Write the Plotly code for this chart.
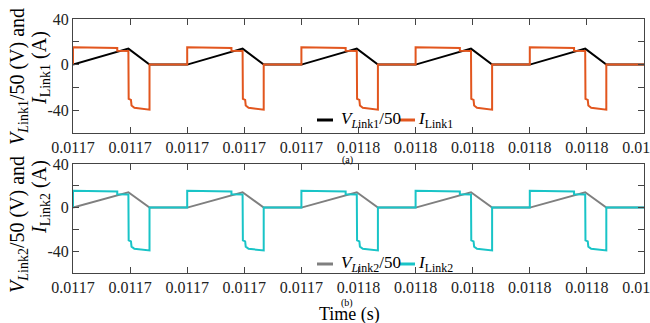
import plotly.graph_objects as go

# ---------------- data ----------------
# time in microseconds
t_I_us = [
    11660, 11660, 11675.5, 11675.5, 11679.4, 11679.5, 11680.3, 11680.5, 11681.5, 11686.8, 11686.8,
    11700, 11700, 11715.5, 11715.5, 11719.4, 11719.5, 11720.3, 11720.5, 11721.5, 11726.8, 11726.8,
    11740, 11740, 11755.5, 11755.5, 11759.4, 11759.5, 11760.3, 11760.5, 11761.5, 11766.8, 11766.8,
    11780, 11780, 11795.5, 11795.5, 11799.4, 11799.5, 11800.3, 11800.5, 11801.5, 11806.8, 11806.8,
    11820, 11820, 11835.5, 11835.5, 11839.4, 11839.5, 11840.3, 11840.5, 11841.5, 11846.8, 11846.8,
    11860,
]
I_link1 = [
    0, 15.2, 14.6, 12.2, 12.0, -30.0, -31.0, -35.8, -37.8, -39.5, 0,
    0, 15.2, 14.6, 12.2, 12.0, -30.0, -31.0, -35.8, -37.8, -39.5, 0,
    0, 15.2, 14.6, 12.2, 12.0, -30.0, -31.0, -35.8, -37.8, -39.5, 0,
    0, 15.2, 14.6, 12.2, 12.0, -30.0, -31.0, -35.8, -37.8, -39.5, 0,
    0, 15.2, 14.6, 12.2, 12.0, -30.0, -31.0, -35.8, -37.8, -39.5, 0,
    0,
]
I_link2 = [
    0, 15.4, 14.8, 12.2, 12.0, -30.0, -31.0, -35.8, -37.8, -39.3, 0,
    0, 15.4, 14.8, 12.2, 12.0, -30.0, -31.0, -35.8, -37.8, -39.3, 0,
    0, 15.4, 14.8, 12.2, 12.0, -30.0, -31.0, -35.8, -37.8, -39.3, 0,
    0, 15.4, 14.8, 12.2, 12.0, -30.0, -31.0, -35.8, -37.8, -39.3, 0,
    0, 15.4, 14.8, 12.2, 12.0, -30.0, -31.0, -35.8, -37.8, -39.3, 0,
    0,
]
t_V_us = [
    11660, 11679.4, 11686.8,
    11700, 11719.4, 11726.8,
    11740, 11759.4, 11766.8,
    11780, 11799.4, 11806.8,
    11820, 11839.4, 11846.8,
    11860,
]
V_link1 = [0, 14.0, 0, 0, 14.0, 0, 0, 14.0, 0, 0, 14.0, 0, 0, 14.0, 0, 0]
V_link2 = [0, 14.1, 0, 0, 14.1, 0, 0, 14.1, 0, 0, 14.1, 0, 0, 14.1, 0, 0]

x_ticks_us = [11660, 11680, 11700, 11720, 11740, 11760, 11780, 11800, 11820, 11840, 11860]
y_ticks = [-40, -20, 0, 20, 40]
y_ticktext = ["-40", "", "0", "", "40"]

# ---------------- figure ----------------
t_I = [v / 1e6 for v in t_I_us]
t_V = [v / 1e6 for v in t_V_us]
x_ticks = [v / 1e6 for v in x_ticks_us]

ORANGE = "#E2561E"
CYAN = "#19C4C7"
GRAY = "#7F7F7F"
FONT = "Liberation Serif"

W, H = 650, 323
L, R, T, B = 73, 6, 19, 50
pw = W - L - R
ph = H - T - B


def px(x):
    return (x - L) / pw


def py(y):
    return 1 - (y - T) / ph


fig = go.Figure()
fig.add_trace(go.Scatter(x=t_V, y=V_link1, mode="lines", line=dict(color="black", width=2),
                         xaxis="x", yaxis="y", showlegend=False))
fig.add_trace(go.Scatter(x=t_I, y=I_link1, mode="lines", line=dict(color=ORANGE, width=2),
                         xaxis="x", yaxis="y", showlegend=False))
fig.add_trace(go.Scatter(x=t_V, y=V_link2, mode="lines", line=dict(color=GRAY, width=2),
                         xaxis="x2", yaxis="y2", showlegend=False))
fig.add_trace(go.Scatter(x=t_I, y=I_link2, mode="lines", line=dict(color=CYAN, width=2),
                         xaxis="x2", yaxis="y2", showlegend=False))

axis_common = dict(showgrid=False, zeroline=False, showline=True, linecolor="#444", linewidth=1,
                   mirror="ticks", ticks="inside", ticklen=6, tickcolor="#444",
                   ticklabeloverflow="allow", automargin=False,
                   tickfont=dict(family=FONT, size=16, color="#222"))
xr = [x_ticks[0], x_ticks[-1]]
fig.update_layout(
    width=W, height=H,
    margin=dict(l=L, r=R, t=T, b=B, autoexpand=False),
    paper_bgcolor="white", plot_bgcolor="white",
    xaxis=dict(domain=[0, 1], range=xr, tickmode="array", tickvals=x_ticks, tickformat=".4f",
               anchor="y", **axis_common),
    yaxis=dict(domain=[py(133), 1], range=[-60, 40], tickmode="array", tickvals=y_ticks,
               ticktext=y_ticktext, anchor="x", **axis_common),
    xaxis2=dict(domain=[0, 1], range=xr, tickmode="array", tickvals=x_ticks, tickformat=".4f",
                anchor="y2", **axis_common),
    yaxis2=dict(domain=[0, py(164)], range=[-60, 40], tickmode="array", tickvals=y_ticks,
                ticktext=y_ticktext, anchor="x2", **axis_common),
    showlegend=False,
)

ann = []
def A(x, y, text, size, angle=0, xanchor="center"):
    ann.append(dict(x=px(x), y=py(y), xref="paper", yref="paper", text=text, showarrow=False,
                    textangle=angle, xanchor=xanchor, yanchor="middle",
                    font=dict(family=FONT, size=size, color="black")))

A(18, 77, "<i>V</i><sub><i>L</i>ink1</sub>/50 (V) and", 20, -90)
A(40, 68, "<i>I</i><sub>Link1</sub> (A)", 20, -90)
A(18, 225, "<i>V</i><sub><i>L</i>ink2</sub>/50 (V) and", 20, -90)
A(40, 197, "<i>I</i><sub>Link2</sub> (A)", 20, -90)
A(347, 160, "(a)", 10)
A(347, 303, "(b)", 10)
A(349, 314, "Time (s)", 18)
# legends
A(339, 120, "<i>V</i><sub><i>L</i>ink1</sub>/50", 17, 0, "left")
A(416, 120, "<i>I</i><sub>Link1</sub>", 17, 0, "left")
A(339, 264, "<i>V</i><sub><i>L</i>ink2</sub>/50", 17, 0, "left")
A(416, 264, "<i>I</i><sub>Link2</sub>", 17, 0, "left")
fig.update_layout(annotations=ann)

shapes = []
def S(x0, x1, y, color):
    shapes.append(dict(type="line", xref="paper", yref="paper", x0=px(x0), x1=px(x1),
                       y0=py(y), y1=py(y), line=dict(color=color, width=3)))
S(317, 333, 120, "black")
S(400, 415, 120, ORANGE)
S(317, 333, 264, GRAY)
S(400, 415, 264, CYAN)
fig.update_layout(shapes=shapes)

fig.write_html("out.html")
